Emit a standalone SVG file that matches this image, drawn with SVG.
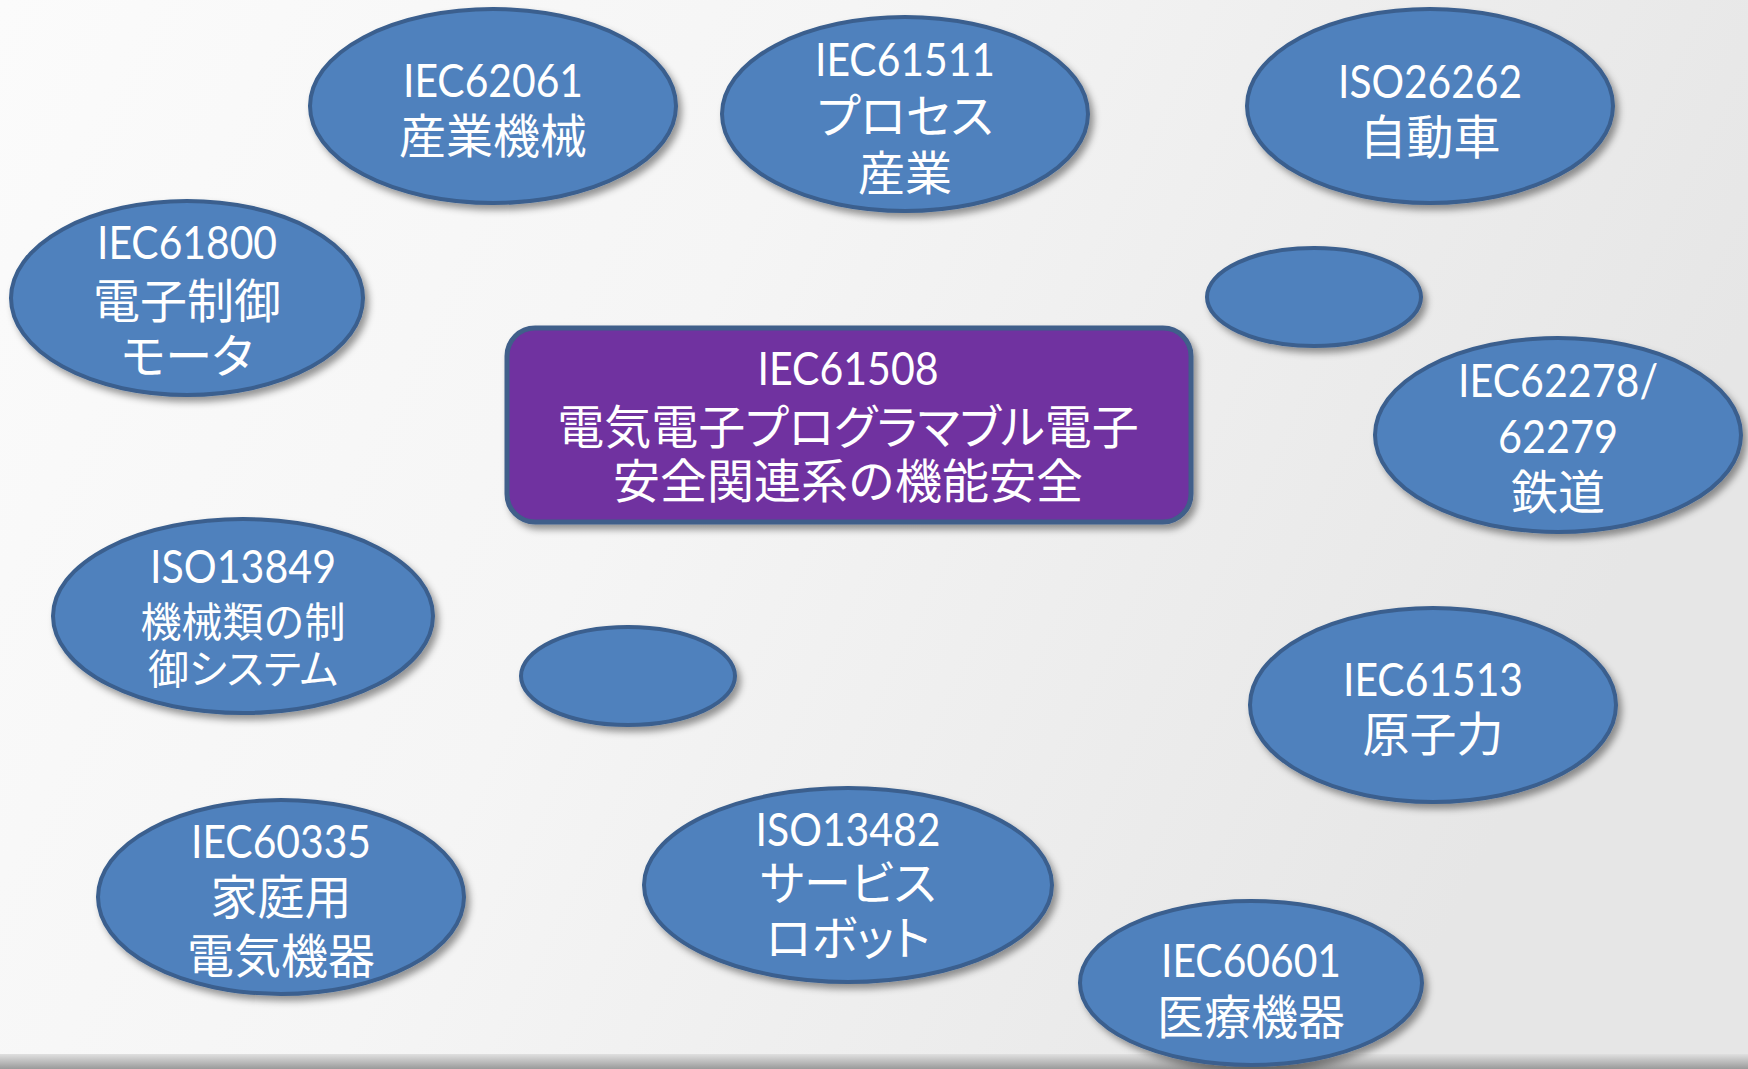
<svg xmlns="http://www.w3.org/2000/svg" width="1748" height="1069" viewBox="0 0 1748 1069">
<defs>
<linearGradient id="bg" x1="0" y1="0" x2="1" y2="0.3">
<stop offset="0" stop-color="#fbfbfb"/>
<stop offset="0.45" stop-color="#f5f5f5"/>
<stop offset="1" stop-color="#e6e6e6"/>
</linearGradient>
<linearGradient id="band" x1="0" y1="0" x2="0" y2="1">
<stop offset="0" stop-color="#e0e0e0"/>
<stop offset="1" stop-color="#9a9a9a"/>
</linearGradient>
<filter id="sh" x="-10%" y="-10%" width="125%" height="130%">
<feDropShadow dx="4" dy="5" stdDeviation="3.5" flood-color="#000" flood-opacity="0.4"/>
</filter>
</defs>
<style>
.n{fill:#4f81bd;stroke:#3a5f8e;stroke-width:4;filter:url(#sh)}
.c{fill:#7030a0;stroke:#3f5f8a;stroke-width:5;filter:url(#sh)}
text{fill:#fff;text-anchor:middle;font-family:"Noto Sans CJK JP","Noto Sans",sans-serif;font-size:47px}
.l{font-family:Lato,"Noto Sans",sans-serif;font-size:46px}
.s{font-size:41px}
.p{font-feature-settings:"palt" 1}
</style>
<rect width="1748" height="1069" fill="url(#bg)"/>
<rect y="1054" width="1748" height="15" fill="url(#band)"/>
<g id="connectors"></g>

<g id="n-iec62061">
<ellipse class="n" cx="493" cy="106" rx="183" ry="97"/>
<text class="l" x="493" y="97" textLength="180" lengthAdjust="spacingAndGlyphs">IEC62061</text>
<text x="493" y="153">産業機械</text>
</g>

<g id="n-iec61511">
<ellipse class="n" cx="905" cy="114" rx="183" ry="97"/>
<text class="l" x="905" y="76" textLength="180" lengthAdjust="spacingAndGlyphs">IEC61511</text>
<text class="p" x="905" y="133">プロセス</text>
<text x="905" y="190">産業</text>
</g>

<g id="n-iso26262">
<ellipse class="n" cx="1430" cy="106" rx="183" ry="97"/>
<text class="l" x="1430" y="98" textLength="184" lengthAdjust="spacingAndGlyphs">ISO26262</text>
<text x="1430" y="154">自動車</text>
</g>

<g id="n-iec61800">
<ellipse class="n" cx="187" cy="298" rx="176" ry="97"/>
<text class="l" x="187" y="259" textLength="180" lengthAdjust="spacingAndGlyphs">IEC61800</text>
<text x="187" y="318">電子制御</text>
<text class="p" x="187" y="373">モータ</text>
</g>

<g id="n-blank1">
<ellipse class="n" cx="1314" cy="297" rx="107" ry="49"/>
</g>

<g id="n-iec61508">
<rect class="c" x="507" y="328" width="684" height="194" rx="28" ry="28"/>
<text class="l" x="848" y="385" textLength="181" lengthAdjust="spacingAndGlyphs">IEC61508</text>
<text class="p" x="848" y="444">電気電子プログラマブル電子</text>
<text x="848" y="498">安全関連系の機能安全</text>
</g>

<g id="n-iec62278">
<ellipse class="n" cx="1558" cy="435" rx="183" ry="97"/>
<text class="l" x="1558" y="397" textLength="200" lengthAdjust="spacingAndGlyphs">IEC62278/</text>
<text class="l" x="1558" y="453" textLength="120" lengthAdjust="spacingAndGlyphs">62279</text>
<text x="1558" y="509">鉄道</text>
</g>

<g id="n-iso13849">
<ellipse class="n" cx="243" cy="616" rx="190" ry="97"/>
<text class="l" x="243" y="583" textLength="186" lengthAdjust="spacingAndGlyphs">ISO13849</text>
<text class="s" x="243" y="637">機械類の制</text>
<text class="s p" x="243" y="684">御システム</text>
</g>

<g id="n-blank2">
<ellipse class="n" cx="628" cy="676" rx="107" ry="49"/>
</g>

<g id="n-iec61513">
<ellipse class="n" cx="1433" cy="705" rx="183" ry="97"/>
<text class="l" x="1433" y="696" textLength="180" lengthAdjust="spacingAndGlyphs">IEC61513</text>
<text x="1433" y="751">原子力</text>
</g>

<g id="n-iec60335">
<ellipse class="n" cx="281" cy="897" rx="183" ry="97"/>
<text class="l" x="281" y="858" textLength="180" lengthAdjust="spacingAndGlyphs">IEC60335</text>
<text x="281" y="914">家庭用</text>
<text x="281" y="973">電気機器</text>
</g>

<g id="n-iso13482">
<ellipse class="n" cx="848" cy="885" rx="204" ry="97"/>
<text class="l" x="848" y="846" textLength="185" lengthAdjust="spacingAndGlyphs">ISO13482</text>
<text class="p" x="848" y="900">サービス</text>
<text class="p" x="848" y="955">ロボット</text>
</g>

<g id="n-iec60601">
<ellipse class="n" cx="1251" cy="983" rx="171" ry="82"/>
<text class="l" x="1251" y="977" textLength="180" lengthAdjust="spacingAndGlyphs">IEC60601</text>
<text x="1251" y="1034">医療機器</text>
</g>
</svg>
